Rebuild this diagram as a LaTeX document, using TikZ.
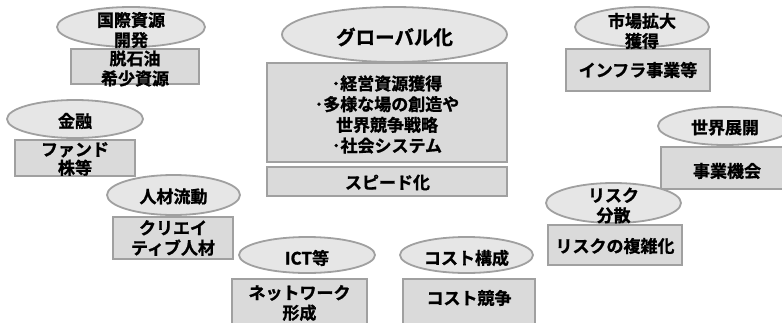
\documentclass[tikz,border=0pt]{standalone}
\usepackage{fontspec}
\usetikzlibrary{shapes.geometric}
\newfontfamily\jp{Noto Sans CJK JP}[BoldFont={Noto Sans CJK JP Bold}, BoldFeatures={FakeBold=1.2}]
\definecolor{ellfill}{HTML}{E6E6E6}
\definecolor{boxfill}{HTML}{DADADA}
\definecolor{bord}{HTML}{A0A0A0}
\tikzset{
  ell/.style 2 args={ellipse, draw=bord, fill=ellfill, line width=1.8pt, inner sep=0pt, minimum width=#1pt, minimum height=#2pt},
  box/.style 2 args={rectangle, draw=bord, fill=boxfill, line width=1.8pt, inner sep=0pt, minimum width=#1pt, minimum height=#2pt},
  txt/.style={inner sep=0pt, align=center, text=black, font=\jp\bfseries\fontsize{17}{20}\selectfont},
  bigtxt/.style={txt, font=\jp\bfseries\fontsize{19.5}{22}\selectfont}
}
\begin{document}
\begin{tikzpicture}[x=1pt,y=-1pt]
\useasboundingbox (0,0) rectangle (782,322);
\clip (0,0) rectangle (782,322);
% shapes
\node[ell={148}{40}] (e1) at (131,27) {};
\node[box={128}{35}] (b1) at (135,66.5) {};
\node[ell={225}{55}] (eg) at (394.5,34.5) {};
\node[box={240}{99}] (bg) at (387,112.5) {};
\node[box={240}{29}] (bs) at (387,181.5) {};
\node[ell={134}{40}] (e3) at (642,27) {};
\node[box={144}{42}] (b3) at (638,70) {};
\node[ell={136}{38}] (e4) at (75,119) {};
\node[box={120}{36}] (b4) at (75,158) {};
\node[ell={133}{40}] (e5) at (173.5,195) {};
\node[box={120}{42}] (b5) at (173,238) {};
\node[ell={136}{36}] (e6) at (307,255) {};
\node[box={135}{56}] (b6) at (299.5,307) {};
\node[ell={133}{36}] (e7) at (466.5,255) {};
\node[box={132}{56}] (b7) at (469,307) {};
\node[ell={134}{38}] (e8) at (725,126) {};
\node[box={132}{42}] (b8) at (727,168) {};
\node[ell={135}{40}] (e9) at (613.5,203) {};
\node[box={134}{40}] (b9) at (615,245) {};
% texts
\node[txt] (t1) at (131,30) {国際資源\\開発};
\node[txt] (u1) at (135,68.5) {脱石油\\希少資源};
\node[bigtxt] (tg) at (394.5,37) {グローバル化};
\node[txt, font=\jp\bfseries\fontsize{17}{20.7}\selectfont] (ug) at (387,114.5) {･経営資源獲得\\･多様な場の創造や\\世界競争戦略\\･社会システム};
\node[txt] (us) at (387.5,182.5) {スピード化};
\node[txt] (t3) at (642,31) {市場拡大\\獲得};
\node[txt] (u3) at (638,70) {インフラ事業等};
\node[txt] (t4) at (75,121) {金融};
\node[txt, font=\jp\bfseries\fontsize{17}{18.5}\selectfont] (u4) at (75,159) {ファンド\\株等};
\node[txt] (t5) at (173.5,196.5) {人材流動};
\node[txt] (u5) at (173,238) {クリエイ\\ティブ人材};
\node[txt] (t6) at (307,258) {ICT等};
\node[txt] (u6) at (299.5,303) {ネットワーク\\形成};
\node[txt] (t7) at (466.5,258) {コスト構成};
\node[txt] (u7) at (469,298) {コスト競争};
\node[txt] (t8) at (725,127.5) {世界展開};
\node[txt] (u8) at (727,171) {事業機会};
\node[txt] (t9) at (613.5,205.5) {リスク\\分散};
\node[txt] (u9) at (615,246) {リスクの複雑化};
\end{tikzpicture}
\end{document}
